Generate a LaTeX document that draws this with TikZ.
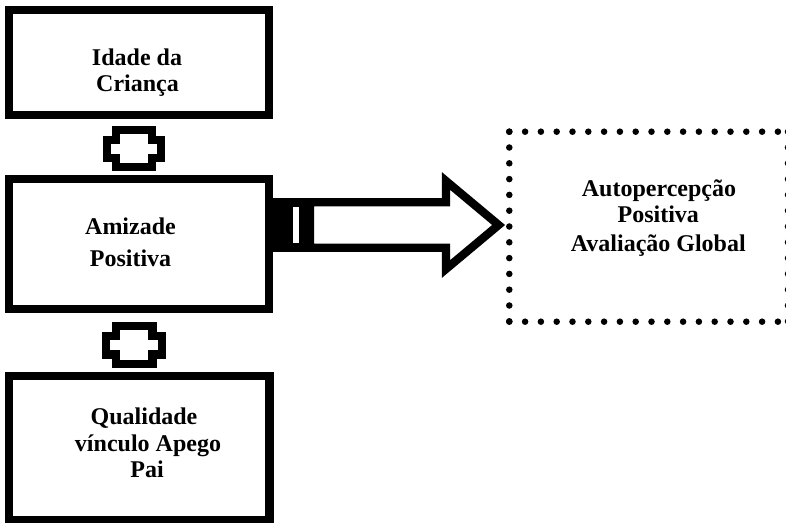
\documentclass[tikz,border=0pt]{standalone}
\usepackage{fontspec}
\setmainfont{Liberation Serif}
\begin{document}
\begin{tikzpicture}[x=0.75pt,y=-0.75pt,
  boxst/.style={draw=black, line width=6.225pt, fill=white, inner sep=0pt, rectangle},
  linkst/.style={draw=black, line width=6.225pt, fill=white, miter limit=20},
  arrowst/.style={draw=black, line width=6.225pt, fill=white, miter limit=20},
  dotst/.style={draw=black, line width=4.9pt, line cap=round, dash pattern=on 0pt off 11.85pt},
  lbl/.style={inner sep=0pt, anchor=base, font=\fontsize{18}{21}\selectfont\bfseries}]
\useasboundingbox (0,0) rectangle (786,523);

% boxes
\node[boxst, minimum width=195pt, minimum height=78.5pt] (b1) at (139.15,62.5) {};
\node[boxst, minimum width=195pt, minimum height=97.5pt] (b2) at (139.15,244.15) {};
\node[boxst, minimum width=195.3pt, minimum height=108pt] (b3) at (139.4,448) {};

% link shapes
\draw[linkst] (115.7,130.2) -- (152.3,130.2) -- (152.3,140.3) -- (161.3,140.3) -- (161.3,157.9)
  -- (152.3,157.9) -- (152.3,166.8) -- (115.7,166.8) -- (115.7,157.9) -- (106.8,157.9)
  -- (106.8,140.3) -- (115.7,140.3) -- cycle;
\draw[linkst] (115.8,325.8) -- (152.6,325.8) -- (152.6,335.7) -- (161.9,335.7) -- (161.9,354.6)
  -- (152.6,354.6) -- (152.6,364.2) -- (115.8,364.2) -- (115.8,354.6) -- (105.8,354.6)
  -- (105.8,335.7) -- (115.8,335.7) -- cycle;

% striped arrow
\draw[arrowst] (310,202.3) -- (446,202.3) -- (446,181) -- (498.6,225) -- (446,269) -- (446,247.7)
  -- (310,247.7) -- cycle;
\fill[black] (273,198.3) rectangle (314,251.7);
\fill[white] (292.7,206.7) rectangle (299.3,243.3);

% dotted box
\coordinate (d1) at (509.3,131.7);
\coordinate (d2) at (788,131.7);
\coordinate (d3) at (788,321.7);
\coordinate (d4) at (509.3,321.7);
\draw[dotst] (d1) -- (d2);
\draw[dotst] (d1) -- (d4);
\draw[dotst] (d4) -- (d3);
\draw[dotst] (d2) -- (d3);

% texts
\node[lbl] (t1a) at (137,65.7) {Idade da};
\node[lbl] (t1b) at (137.5,91.7) {Criança};
\node[lbl] (t2a) at (130.5,235) {Amizade};
\node[lbl] (t2b) at (130.5,266.7) {Positiva};
\node[lbl] (t3a) at (144,425) {Qualidade};
\node[lbl] (t3b) at (148,451.7) {vínculo Apego};
\node[lbl] (t3c) at (147,477.3) {Pai};
\node[lbl] (t4a) at (659,196.7) {Autopercepção};
\node[lbl] (t4b) at (658.3,222.7) {Positiva};
\node[lbl] (t4c) at (658.3,251.7) {Avaliação Global};
\end{tikzpicture}
\end{document}
